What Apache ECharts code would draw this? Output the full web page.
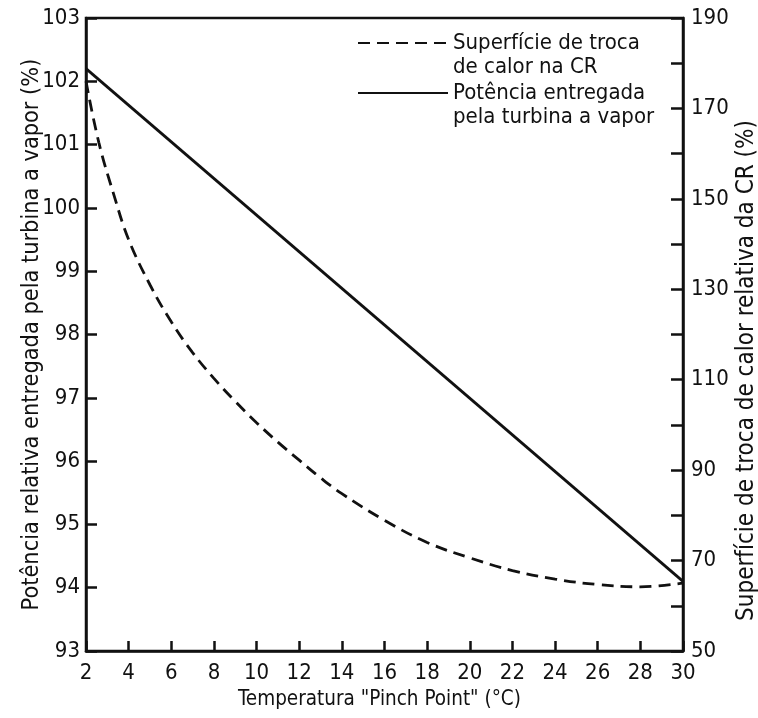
<!DOCTYPE html>
<html>
<head>
<meta charset="utf-8">
<script src="https://cdn.jsdelivr.net/npm/echarts@6/dist/echarts.min.js"></script>
<style>
  html, body { margin: 0; padding: 0; background: #fff; }
  #chart { width: 758px; height: 718px; }
</style>
</head>
<body>
<div id="chart"></div>
<script>
// dados
var pinchSup = [2, 2.6, 3.3, 4, 5, 6, 7, 8, 9, 10, 11, 12, 13, 14, 16, 18, 20, 22, 24, 26, 28, 30];
var superficie = [176, 162.5, 151, 141, 131, 122.8, 116, 110.3, 105.2, 100.5, 96.2, 92.2, 88.3, 84.8, 78.9, 74.0, 70.6, 67.8, 65.9, 64.7, 64.2, 65.0];
var pinchPot = [2, 30];
var potencia = [102.2, 94.1];

var nomeSup = 'Superfície de troca de calor na CR';
var nomePot = 'Potência entregada pela turbina a vapor';
var fonte = '"DejaVu Sans Condensed", "Liberation Sans Narrow", "DejaVu Sans", sans-serif';

var chart = echarts.init(document.getElementById('chart'));

var supData = pinchSup.map(function (x, i) { return [x, superficie[i]]; });
var potData = pinchPot.map(function (x, i) { return [x, potencia[i]]; });

function legenda(nome, top) {
  return {
    data: [{ name: nome, icon: 'inherit' }],
    left: 357,
    top: top,
    orient: 'vertical',
    padding: 0,
    itemWidth: 90,
    itemHeight: 14,
    selectedMode: false,
    itemStyle: { opacity: 0 },
    // linha vazia no inicio para o icone ficar na altura da primeira linha
    formatter: function (n) {
      return n === nomeSup ? ' \nSuperfície de troca\nde calor na CR' : ' \nPotência entregada\npela turbina a vapor';
    },
    textStyle: {
      fontFamily: fonte,
      fontSize: 22,
      color: '#111',
      lineHeight: 24
    }
  };
}

var option = {
  backgroundColor: '#fff',
  animation: false,
  legend: [legenda(nomeSup, 7), legenda(nomePot, 57)],
  grid: {
    left: 86, right: 75, top: 18, bottom: 67,
    outerBoundsMode: 'none',
    containLabel: false,
    show: true, borderColor: '#111', borderWidth: 2.5
  },
  xAxis: {
    type: 'value',
    min: 2, max: 30, interval: 2,
    name: 'Temperatura "Pinch Point" (°C)',
    nameLocation: 'middle',
    nameMoveOverlap: false,
    nameGap: 38,
    nameTextStyle: { fontFamily: fonte, fontSize: 20.5, color: '#111', padding: [0, 10, 0, 0] },
    axisLine: { lineStyle: { color: '#111', width: 2.5 } },
    axisTick: { inside: true, length: 10, lineStyle: { color: '#111', width: 2.5 } },
    axisLabel: { fontFamily: fonte, fontSize: 22, color: '#111', margin: 11 },
    splitLine: { show: false }
  },
  yAxis: [
    {
      type: 'value',
      min: 93, max: 103, interval: 1,
      name: 'Potência relativa entregada pela turbina a vapor (%)',
      nameLocation: 'middle',
      nameMoveOverlap: false,
      nameRotate: 90,
      nameGap: 43,
      nameTextStyle: { fontFamily: fonte, fontSize: 23.3, color: '#111' },
      axisLine: { show: true, lineStyle: { color: '#111', width: 2.5 } },
      axisTick: { show: true, inside: true, length: 11, lineStyle: { color: '#111', width: 2.5 } },
      axisLabel: { fontFamily: fonte, fontSize: 22, color: '#111', margin: 6 },
      splitLine: { show: false }
    },
    {
      type: 'value',
      min: 50, max: 190, interval: 10,
      position: 'right',
      name: 'Superfície de troca de calor relativa da CR (%)',
      nameLocation: 'middle',
      nameMoveOverlap: false,
      nameRotate: 90,
      nameGap: 52,
      nameTextStyle: { fontFamily: fonte, fontSize: 24, color: '#111', padding: [0, 72, 0, 0] },
      axisLine: { show: true, lineStyle: { color: '#111', width: 2.5 } },
      axisTick: { show: true, inside: true, length: 12, lineStyle: { color: '#111', width: 2.5 } },
      axisLabel: {
        fontFamily: fonte, fontSize: 22, color: '#111', margin: 8,
        formatter: function (v) { return (v - 50) % 20 === 0 ? v : ''; }
      },
      splitLine: { show: false }
    }
  ],
  series: [
    {
      name: nomeSup,
      type: 'line',
      yAxisIndex: 1,
      data: supData,
      smooth: 0.4,
      symbol: 'none',
      itemStyle: { color: '#111' },
      lineStyle: { color: '#111', width: 2.8, type: [12, 7] }
    },
    {
      name: nomePot,
      type: 'line',
      yAxisIndex: 0,
      data: potData,
      symbol: 'none',
      itemStyle: { color: '#111' },
      lineStyle: { color: '#111', width: 2.8, type: 'solid' }
    }
  ]
};

chart.setOption(option);
</script>
</body>
</html>
